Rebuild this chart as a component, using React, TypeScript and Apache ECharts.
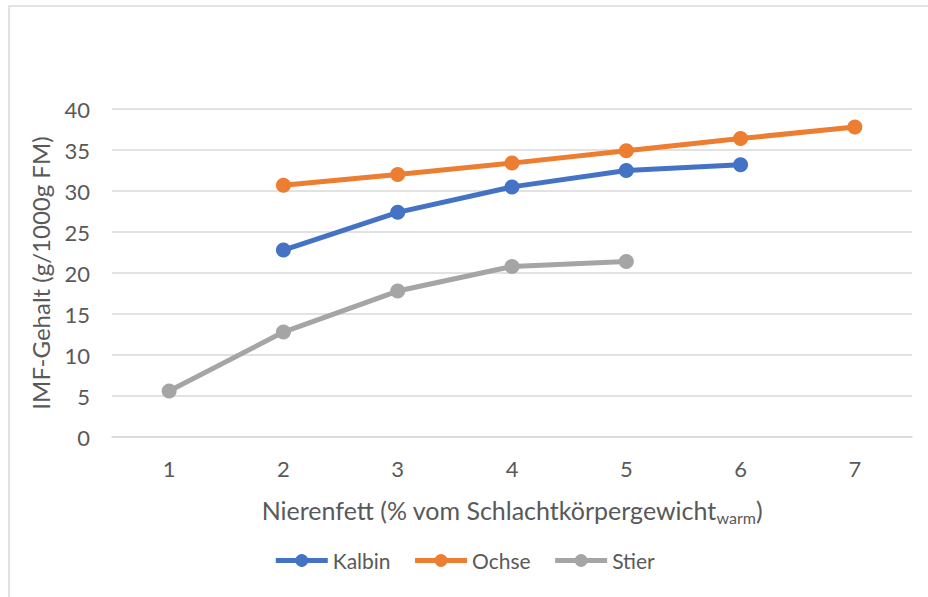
import React, { useEffect, useRef } from "react";
import * as echarts from "echarts";

const categories = ["1", "2", "3", "4", "5", "6", "7"];
const kalbin = [null, 22.8, 27.4, 30.5, 32.5, 33.2, null];
const ochse = [null, 30.7, 32.0, 33.4, 34.9, 36.4, 37.8];
const stier = [5.6, 12.8, 17.8, 20.8, 21.4, null, null];

const FONT = "Lato, 'Open Sans', sans-serif";
const TXT = "#595959";

export default function App() {
  const ref = useRef<HTMLDivElement>(null);
  useEffect(() => {
    document.body.style.margin = "0";
    const chart = echarts.init(ref.current!, null, { renderer: "svg" });
    const mk = (name: string, data: (number | null)[], color: string) => ({
      name,
      type: "line",
      data,
      symbol: "circle",
      symbolSize: 15,
      lineStyle: { width: 5, color },
      itemStyle: { color },
      connectNulls: false,
    });
    chart.setOption({
      animation: false,
      backgroundColor: "#fff",
      textStyle: { fontFamily: FONT },
      graphic: [
        {
          type: "rect",
          shape: { x: 9, y: 6, width: 940, height: 620 },
          style: { fill: "none", stroke: "#d9d9d9", lineWidth: 1.5 },
          silent: true,
        },
      ],
      grid: { left: 112, right: 16, top: 109, bottom: 160, containLabel: false },
      xAxis: {
        type: "category",
        data: categories,
        boundaryGap: true,
        axisLine: { show: true, lineStyle: { color: "#d9d9d9", width: 1.5 } },
        axisTick: { show: false },
        axisLabel: { color: TXT, fontSize: 22, fontFamily: FONT, margin: 20 },
        name: "Nierenfett (% vom Schlachtkörpergewicht{sub|warm})",
        nameLocation: "middle",
        nameGap: 58,
        nameTextStyle: {
          color: TXT,
          fontSize: 25,
          fontFamily: FONT,
          rich: {
            sub: { fontSize: 16, color: TXT, fontFamily: FONT, padding: [14, 0, 0, 0] },
          },
        },
      },
      yAxis: {
        type: "value",
        min: 0,
        max: 40,
        interval: 5,
        axisLine: { show: false },
        axisTick: { show: false },
        splitLine: { lineStyle: { color: "#d9d9d9", width: 1.5 } },
        axisLabel: { color: TXT, fontSize: 22, fontFamily: FONT, margin: 22 },
        name: "IMF-Gehalt (g/1000g FM)",
        nameLocation: "middle",
        nameGap: 60,
        nameTextStyle: { color: TXT, fontSize: 24, fontFamily: FONT },
      },
      legend: {
        bottom: 21,
        left: "center",
        itemWidth: 52,
        itemHeight: 16,
        itemGap: 22,
        lineStyle: { width: 5 },
        textStyle: { color: TXT, fontSize: 21, fontFamily: FONT },
        data: ["Kalbin", "Ochse", "Stier"],
      },
      series: [
        mk("Kalbin", kalbin, "#4472C4"),
        mk("Ochse", ochse, "#ED7D31"),
        mk("Stier", stier, "#A5A5A5"),
      ],
    });
    return () => chart.dispose();
  }, []);
  return <div ref={ref} style={{ width: 928, height: 597 }} />;
}
